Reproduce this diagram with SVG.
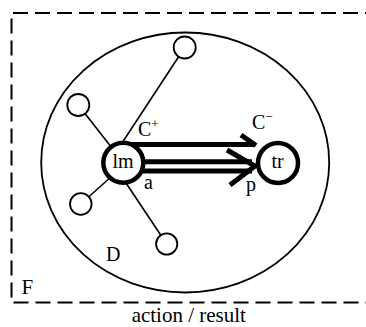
<svg xmlns="http://www.w3.org/2000/svg" width="366" height="327" viewBox="0 0 366 327">
<style>
text{font-family:"Liberation Serif","Times New Roman","DejaVu Serif",serif;font-size:20px;fill:#000}
.big{font-size:21px}
.sm{fill:#fff;stroke:#000;stroke-width:1.8}
.link{stroke:#000;stroke-width:1.6;fill:none}
.shaft{stroke:#000;stroke-width:5;fill:none}
.node{fill:#fff;stroke:#000;stroke-width:4.5}
</style>
<rect width="366" height="327" fill="#fff"/>
<g id="frame">
<path d="M380 13 H11.5 V302.5 H380" fill="none" stroke="#000" stroke-width="2" stroke-dasharray="15 7"/>
<text class="big" x="21.5" y="294" font-family="Liberation Serif, serif">F</text>
</g>
<g id="domain">
<ellipse cx="185.2" cy="162.5" rx="144" ry="130" fill="none" stroke="#000" stroke-width="1.8"/>
<text x="106" y="261" font-family="Liberation Serif, serif">D</text>
</g>
<g id="connectors">
<line class="link" x1="184.7" y1="47.5" x2="122" y2="143"/>
<line class="link" x1="78.3" y1="105" x2="112" y2="148"/>
<line class="link" x1="80.8" y1="204" x2="112" y2="176"/>
<line class="link" x1="166.7" y1="244" x2="124" y2="180"/>
<line class="shaft" x1="125" y1="144.5" x2="255" y2="144.5"/>
<line class="shaft" x1="125" y1="161.7" x2="252" y2="161.7"/>
<line class="shaft" x1="125" y1="171" x2="252" y2="171"/>
<polyline class="shaft" points="241,135 256,145.5"/>
<polyline class="shaft" points="227,150 255,166 230,185"/>
</g>
<g id="n1"><circle class="sm" cx="184.7" cy="47.5" r="11"/></g>
<g id="n2"><circle class="sm" cx="78.3" cy="105" r="11"/></g>
<g id="n3"><circle class="sm" cx="80.8" cy="204" r="10.8"/></g>
<g id="n4"><circle class="sm" cx="166.7" cy="244" r="10.6"/></g>
<g id="lm">
<circle class="node" cx="123.3" cy="162.7" r="20"/>
<text x="123" y="168" text-anchor="middle" font-family="Liberation Serif, serif">lm</text>
</g>
<g id="tr">
<circle class="node" cx="278" cy="163" r="20"/>
<text x="277.5" y="168" text-anchor="middle" font-family="Liberation Serif, serif">tr</text>
</g>
<g id="labels" font-family="Liberation Serif, serif">
<text x="138" y="136">C<tspan dy="-8" font-size="13">+</tspan></text>
<text x="252" y="128.5">C<tspan dy="-8" font-size="13">−</tspan></text>
<text x="144" y="189">a</text>
<text x="246" y="191">p</text>
<text class="big" x="188.8" y="322" text-anchor="middle">action / result</text>
</g>
</svg>
